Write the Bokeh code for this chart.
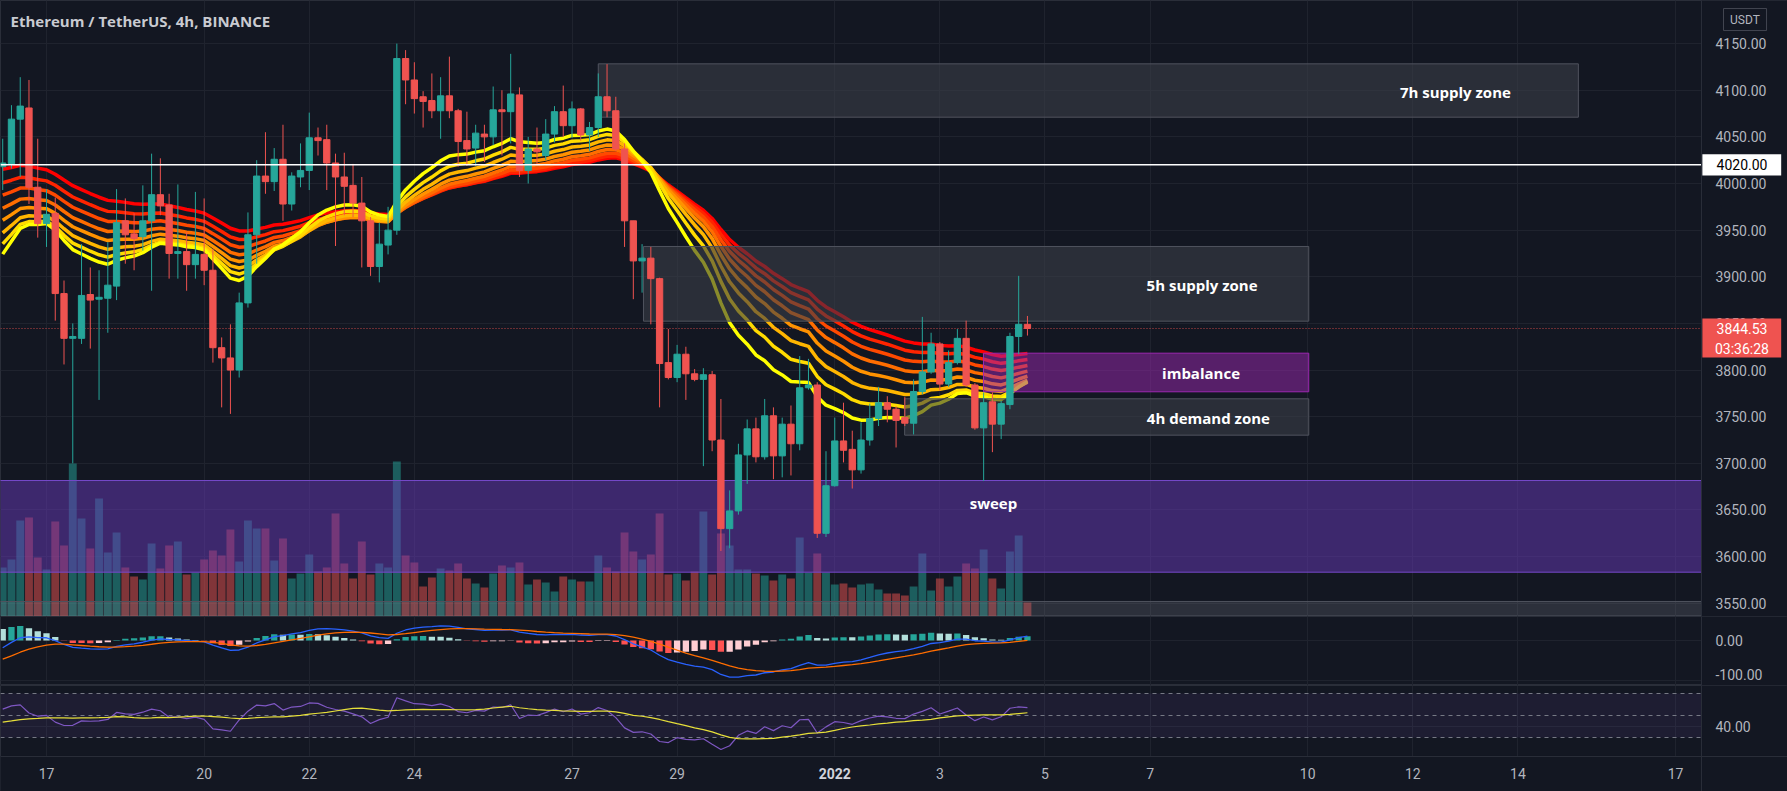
from bokeh.plotting import figure
from bokeh.layouts import column
from bokeh.models import (ColumnDataSource, FixedTicker, Span, Range1d, BoxAnnotation)
from bokeh.embed import file_html
from bokeh.resources import INLINE
from bokeh.core.properties import value

# ---------------- data ----------------
# x is expressed as "day of December" (1 Jan 2022 = 32); 4h candles
first_bar_day = 16 + 4 / 24      # 16 Dec 04:00
bar_step_days = 4 / 24

opens = [4018, 4021, 4069, 4081, 3996,
         3957, 3968, 3882, 3834, 3834, 3881, 3876, 3877, 3890, 3960,
         3946, 3943, 3960, 3988, 3977, 3925, 3927, 3913, 3924, 3907,
         3824, 3813, 3800, 3872, 3945, 4008, 4002, 4026, 3978, 4007,
         4014, 4049, 4047, 4022, 4007, 3998, 3979, 3960, 3911, 3934,
         3950, 4134, 4111, 4093, 4089, 4078, 4094, 4078, 4046, 4038,
         4053, 4050, 4079, 4077, 4095, 4014, 4037, 4030, 4053, 4077,
         4062, 4080, 4052, 4060, 4093, 4078, 4037, 3960, 3917, 3920,
         3898, 3808, 3792, 3817, 3796, 3790, 3795, 3725, 3630, 3649,
         3709, 3737, 3707, 3751, 3708, 3742, 3721, 3781, 3784, 3625,
         3676, 3724, 3715, 3693, 3725, 3748, 3765, 3758, 3749, 3743,
         3777, 3798, 3828, 3785, 3808, 3834, 3784, 3738, 3766, 3742,
         3763, 3836, 3849]
highs = [4048, 4084, 4114, 4111, 4048,
         3994, 3985, 3896, 3850, 3935, 3910, 3907, 3937, 3994, 3984,
         3968, 3998, 4032, 4027, 3989, 3999, 3948, 3991, 3984, 3930,
         3835, 3849, 3883, 3969, 4025, 4055, 4038, 4063, 4012, 4043,
         4076, 4060, 4063, 4032, 4033, 4021, 4007, 3964, 3958, 3975,
         4150, 4143, 4130, 4099, 4118, 4114, 4136, 4080, 4077, 4063,
         4063, 4104, 4100, 4139, 4103, 4050, 4060, 4069, 4083, 4105,
         4088, 4081, 4066, 4118, 4128, 4093, 4043, 3960, 3935, 3932,
         3899, 3844, 3827, 3825, 3801, 3802, 3799, 3769, 3671, 3721,
         3747, 3749, 3769, 3760, 3749, 3762, 3815, 3812, 3787, 3713,
         3749, 3765, 3735, 3744, 3764, 3782, 3772, 3761, 3771, 3790,
         3857, 3840, 3830, 3821, 3844, 3853, 3786, 3776, 3776, 3767,
         3840, 3901, 3858]
lows = [3993, 4016, 4007, 3978, 3942,
        3932, 3853, 3806, 3700, 3828, 3823, 3768, 3840, 3875, 3914,
        3907, 3928, 3885, 3966, 3898, 3898, 3885, 3898, 3891, 3808,
        3760, 3753, 3792, 3867, 3914, 3989, 3992, 3960, 3971, 3996,
        3993, 4030, 3993, 3933, 3966, 3964, 3910, 3901, 3894, 3924,
        3945, 4085, 4075, 4060, 4070, 4048, 4070, 4018, 4019, 4019,
        4023, 4041, 4030, 4043, 4007, 4000, 4021, 4025, 4044, 4050,
        4049, 4046, 4035, 4050, 4071, 4035, 3932, 3876, 3883, 3849,
        3760, 3790, 3787, 3768, 3788, 3697, 3713, 3606, 3609, 3645,
        3678, 3701, 3704, 3683, 3685, 3687, 3714, 3779, 3620, 3621,
        3675, 3701, 3673, 3689, 3719, 3740, 3744, 3717, 3740, 3731,
        3774, 3796, 3778, 3782, 3806, 3782, 3736, 3681, 3712, 3726,
        3758, 3817, 3837]
closes = [4022, 4069, 4083, 3996, 3957,
          3967, 3882, 3834, 3836, 3880, 3875, 3878, 3891, 3958, 3945,
          3941, 3960, 3988, 3976, 3925, 3927, 3913, 3924, 3907, 3824,
          3813, 3800, 3872, 3945, 4008, 4002, 4026, 3978, 4008, 4014,
          4049, 4046, 4022, 4007, 3997, 3979, 3960, 3911, 3935, 3950,
          4134, 4111, 4091, 4088, 4078, 4094, 4078, 4045, 4037, 4054,
          4050, 4079, 4077, 4096, 4014, 4037, 4034, 4053, 4077, 4062,
          4080, 4052, 4060, 4093, 4078, 4037, 3960, 3917, 3920, 3898,
          3807, 3792, 3817, 3796, 3790, 3795, 3725, 3630, 3649, 3709,
          3737, 3707, 3751, 3708, 3742, 3721, 3781, 3784, 3625, 3676,
          3724, 3714, 3693, 3725, 3748, 3765, 3758, 3746, 3743, 3777,
          3798, 3828, 3785, 3808, 3834, 3784, 3738, 3765, 3742, 3764,
          3836, 3849, 3844.53]
volumes_k = [49, 57, 96, 99, 59,
             47, 95, 71, 153, 98, 68, 118, 64, 84, 49,
             40, 37, 73, 48, 71, 75, 42, 44, 57, 66,
             61, 87, 55, 96, 88, 88, 56, 78, 38, 43,
             62, 45, 49, 103, 53, 38, 75, 42, 53, 49,
             155, 61, 54, 30, 39, 48, 46, 53, 38, 33,
             29, 43, 51, 49, 54, 32, 37, 34, 25, 40,
             37, 35, 35, 61, 49, 45, 84, 65, 57, 62,
             103, 42, 43, 36, 45, 105, 42, 83, 71, 47,
             47, 43, 41, 36, 42, 38, 79, 44, 63, 44,
             32, 33, 29, 32, 33, 27, 23, 23, 21, 30,
             63, 26, 38, 30, 40, 53, 48, 67, 38, 28,
             65, 81, 14]

last_price = 3844.53
last_countdown = "03:36:28"
level_line = 4020.0
price_ticks = [3550 + 50 * i for i in range(13)]
macd_ticks = [0, -100]
rsi_ticks = [40]
rsi_levels = [70, 50, 30]
tick_days = [17, 20, 22, 24, 27, 29, 32, 34, 36, 38, 41, 43, 45, 48]
tick_labels = ["17", "20", "22", "24", "27", "29", "2022", "3", "5", "7", "10", "12", "14", "17"]
tick_bold = ["2022"]

# EMA ribbon (lengths) and the ribbon values just before the first visible bar
ribbon_lengths = [20, 25, 30, 35, 40, 45, 50, 55]
ribbon_start = [3914, 3928, 3942, 3957, 3971, 3986, 4000, 4015]
# MACD / RSI state just before the first visible bar
macd_fast_start, macd_slow_start, macd_signal_start = 3900.0, 3930.0, -54.0
rsi_gain_start, rsi_loss_start, rsi_ma_start = 30.0, 24.0, 43.0

# drawn zones
zone_text = ["7h supply zone", "5h supply zone", "imbalance", "4h demand zone", "sweep"]
zone_left = [27.50, 28.36, 34.83, 33.33, 15.0, 15.0]
zone_right = [46.15, 41.02, 41.02, 41.02, 48.4938, 48.4938]
zone_top = [4128.3, 3932.5, 3818.1, 3769.2, 3681.6, 3551.9]
zone_bottom = [4071.1, 3852.4, 3776.7, 3730.2, 3583.3, 3500.0]
zone_text_x = [43.81, 38.99, 38.97, 39.11, 35.02]
zone_text_y = [4098.5, 3891.5, 3796.5, 3748.5, 3658.0]

# ---------------- derived series ----------------
n = len(closes)
xs = [first_bar_day + i * bar_step_days for i in range(n)]
UP, DN = "#26A69A", "#EF5350"
cols = [UP if c >= o else DN for o, c in zip(opens, closes)]


def ema_series(vals, length, start):
    a = 2.0 / (length + 1)
    e = start
    out = []
    for v in vals:
        e += a * (v - e)
        out.append(e)
    return out


ribbons = [ema_series(closes, L, s) for L, s in zip(ribbon_lengths, ribbon_start)]
ribbon_colors = ["#FFFF00", "#FFDB00", "#FFB600", "#FF9200", "#FF6D00", "#FF4900", "#FF2400", "#FF0000"]

ema12 = ema_series(closes, 12, macd_fast_start)
ema26 = ema_series(closes, 26, macd_slow_start)
macd = [a - b for a, b in zip(ema12, ema26)]
signal = ema_series(macd, 9, macd_signal_start)
hist = [m - s for m, s in zip(macd, signal)]
hist_cols = []
for i, h in enumerate(hist):
    prev = hist[i - 1] if i > 0 else h
    if h >= 0:
        hist_cols.append("#26A69A" if h > prev else "#B2DFDB")
    else:
        hist_cols.append("#FFCDD2" if h > prev else "#FF5252")

g, l = rsi_gain_start, rsi_loss_start
prev = opens[0]
rsi = []
for c in closes:
    ch = c - prev
    g = (g * 13 + max(ch, 0)) / 14
    l = (l * 13 + max(-ch, 0)) / 14
    rsi.append(100 - 100 / (1 + g / l))
    prev = c
win = [rsi_ma_start] * 13 + rsi
rsi_ma = [sum(win[i:i + 14]) / 14 for i in range(n)]

# ---------------- figures ----------------
BG = "#131722"
GRID = "#1f232e"
AXC = "#B2B5BE"
SEP = "#2a2e39"
FW = 1787
X0, XAX, X1 = 16.1247, 48.4938, 50.130    # left edge, price-scale edge, right edge
LAB_X = 48.76                             # left of the price-scale labels
TAG_L, TAG_R = 48.51, 50.01
TAG_C = 49.264
xr = Range1d(X0, X1)


def make_fig(h, yr):
    f = figure(frame_width=FW, frame_height=h, x_range=xr, y_range=yr,
               output_backend="svg", toolbar_location=None,
               x_axis_location=None, y_axis_location=None,
               min_border_left=0, min_border_top=0, min_border_right=0, min_border_bottom=0,
               background_fill_color=BG, border_fill_color=BG,
               outline_line_color=SEP)
    f.xgrid.ticker = FixedTicker(ticks=tick_days)
    f.grid.grid_line_color = GRID
    f.grid.grid_line_width = 1
    return f


def price_scale(f, ticks, labels, ylo, yhi):
    # price-scale column on the right: cover, separator and labels
    f.quad(left=XAX, right=X1 + 1, top=yhi, bottom=ylo, fill_color=BG, line_color=None)
    f.add_layout(Span(location=XAX, dimension="height", line_color=SEP, line_width=1))
    f.text(x=[LAB_X] * len(ticks), y=ticks, text=labels, text_color=AXC,
           text_font=value("Roboto"), text_font_size="14px",
           text_align="left", text_baseline="middle")


# main pane
YLO, YHI = 3535.8, 4196.2
p = make_fig(616, Range1d(YLO, YHI))
p.ygrid.ticker = FixedTicker(ticks=price_ticks)
p.extra_y_ranges = {"vol": Range1d(0, 616)}

vsrc = ColumnDataSource(dict(x=xs, v=volumes_k, c=cols))
p.vbar(x="x", top="v", bottom=0, width=0.15, fill_color="c", line_color=None,
       fill_alpha=0.5, source=vsrc, y_range_name="vol")

for vals, col in zip(reversed(ribbons), reversed(ribbon_colors)):
    p.line(xs, vals, line_color=col, line_width=3.5)

zone_fill = ["#3A3D48", "#3A3D48", "#9C27B0", "#3A3D48", "#673AB7", "#787B86"]
zone_alpha = [0.6, 0.6, 0.5, 0.6, 0.5, 0.25]
zone_line = ["#50535E", "#50535E", "#9C27B0", "#50535E", "#7448C8", "#50535E"]
p.quad(left=zone_left, right=zone_right, top=zone_top, bottom=zone_bottom,
       fill_color=zone_fill, fill_alpha=zone_alpha, line_color=zone_line, line_width=1)

p.line([X0, XAX], [last_price, last_price], line_color="#EF5350",
       line_dash="1 2", line_width=1, line_alpha=0.8)

csrc = ColumnDataSource(dict(x=xs, o=opens, h=highs, l=lows, c=closes,
                             top=[max(a, b) for a, b in zip(opens, closes)],
                             bot=[min(a, b) for a, b in zip(opens, closes)], col=cols))
p.segment(x0="x", y0="l", x1="x", y1="h", line_color="col", line_width=1, source=csrc)
p.vbar(x="x", top="top", bottom="bot", width=0.12, fill_color="col", line_color="col",
       line_width=1, source=csrc)

p.text(x=zone_text_x, y=zone_text_y, text=zone_text, text_color="#FFFFFF",
       text_font=value("Open Sans"), text_font_size="15px", text_font_style="bold",
       text_align="center", text_baseline="middle")

p.line([X0, XAX], [level_line, level_line], line_color="#FFFFFF", line_width=1.5)

p.text(x=[16.315], y=[4173.7], text=["Ethereum / TetherUS, 4h, BINANCE"],
       text_color="#C9CBD1", text_font=value("Open Sans"), text_font_size="15px",
       text_font_style="bold", text_baseline="middle", text_align="left")

price_scale(p, price_ticks, ["%.2f" % t for t in price_ticks], YLO, YHI)

# price tags on the scale
p.quad(left=[TAG_L], right=[TAG_R], top=[level_line + 11.5], bottom=[level_line - 11.5],
       fill_color="#FFFFFF", line_color=None)
p.text(x=[TAG_C], y=[level_line], text=["%.2f" % level_line],
       text_color="#000000", text_font=value("Roboto"), text_font_size="14px",
       text_align="center", text_baseline="middle")
p.quad(left=[TAG_L], right=[TAG_R], top=[3855.3], bottom=[3813.5],
       fill_color="#EF5350", line_color=None)
p.text(x=[TAG_C] * 2, y=[last_price, 3823.0],
       text=["%.2f" % last_price, last_countdown], text_color="#FFFFFF",
       text_font=value("Roboto"), text_font_size="14px",
       text_align="center", text_baseline="middle")
p.quad(left=[48.912], right=[49.731], top=[4187.6], bottom=[4164.0],
       fill_color=BG, line_color="#434651", line_width=1)
p.text(x=[49.32], y=[4175.8], text=["USDT"], text_color=AXC,
       text_font=value("Roboto"), text_font_size="12px",
       text_align="center", text_baseline="middle")

# MACD pane
MLO, MHI = -112.5, 60.0
pm = make_fig(69, Range1d(MLO, MHI))
pm.ygrid.ticker = FixedTicker(ticks=macd_ticks)
pm.vbar(x=xs, top=hist, bottom=0, width=0.12, fill_color=hist_cols, line_color=None)
pm.line(xs, macd, line_color="#2962FF", line_width=1.3)
pm.line(xs, signal, line_color="#FF6D00", line_width=1.3)
price_scale(pm, [0, -86], ["%.2f" % t for t in macd_ticks], MLO, MHI)

# RSI pane + time scale underneath (frame covers both; 1.1 px per RSI point)
RLO, RHI = 12.73, 77.27
ALO = -19.09            # bottom of the time-scale strip
TLAB_Y = -2.73          # time label centre line
pr = make_fig(106, Range1d(ALO, RHI))
pr.ygrid.ticker = FixedTicker(ticks=rsi_ticks)
pr.add_layout(BoxAnnotation(bottom=30, top=70, fill_color="#7E57C2", fill_alpha=0.1,
                            line_color=None, level="underlay"))
for lv in rsi_levels:
    pr.line([X0, XAX], [lv, lv], line_color="#787B86", line_dash="4 4", line_width=1)
pr.line(xs, rsi, line_color="#7E57C2", line_width=1.2)
pr.line(xs, rsi_ma, line_color="#E6DF3A", line_width=1.2)
price_scale(pr, rsi_ticks, ["%.2f" % t for t in rsi_ticks], RLO, RHI)

# time scale strip
pr.quad(left=X0 - 1, right=X1 + 1, top=RLO, bottom=ALO - 1, fill_color=BG, line_color=None)
pr.add_layout(Span(location=RLO, dimension="width", line_color=SEP, line_width=1))
norm_days = [d for d, t in zip(tick_days, tick_labels) if t not in tick_bold]
norm_labs = [t for t in tick_labels if t not in tick_bold]
bold_days = [d for d, t in zip(tick_days, tick_labels) if t in tick_bold]
bold_labs = [t for t in tick_labels if t in tick_bold]
pr.text(x=norm_days, y=[TLAB_Y] * len(norm_days), text=norm_labs, text_color=AXC,
        text_font=value("Roboto"), text_font_size="14px",
        text_align="center", text_baseline="middle")
pr.text(x=bold_days, y=[TLAB_Y] * len(bold_days), text=bold_labs, text_color="#D1D4DC",
        text_font=value("Roboto"), text_font_size="14px", text_font_style="bold",
        text_align="center", text_baseline="middle")

layout = column(p, pm, pr, spacing=0, styles={"background-color": BG})
open("out.html", "w").write(file_html(layout, INLINE, title="ETHUSDT"))
